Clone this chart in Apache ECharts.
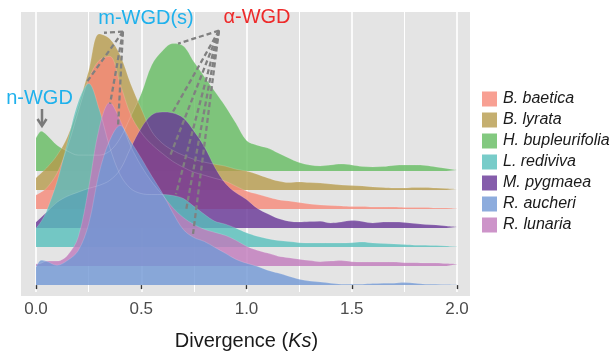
<!DOCTYPE html>
<html>
<head>
<meta charset="utf-8">
<script src="https://cdn.jsdelivr.net/npm/echarts@6/dist/echarts.min.js"></script>
<style>
html, body { margin: 0; padding: 0; background: #fff; }
#chart { width: 614px; height: 356px; }
</style>
</head>
<body>
<div id="chart"></div>
<script>
// Ks grid shared by all ridges
var ks = [0, 0.025, 0.05, 0.1, 0.15, 0.2, 0.25, 0.3, 0.35, 0.4, 0.45, 0.5, 0.55, 0.6, 0.65, 0.7,
    0.75, 0.8, 0.85, 0.9, 0.95, 1.0, 1.05, 1.1, 1.15, 1.2, 1.25, 1.3, 1.35, 1.4, 1.45, 1.5,
    1.55, 1.6, 1.65, 1.7, 1.75, 1.8, 1.85, 1.9, 1.95, 2.0];

// ridge order, top to bottom
var species = ['H. bupleurifolia', 'B. lyrata', 'B. baetica', 'M. pygmaea', 'L. rediviva', 'R. lunaria', 'R. aucheri'];
var legendOrder = ['B. baetica', 'B. lyrata', 'H. bupleurifolia', 'L. rediviva', 'M. pygmaea', 'R. aucheri', 'R. lunaria'];
var ridgeBase = [6, 5, 4, 3, 2, 1, 0];
var colors = ['rgba(100,188,96,0.8)', 'rgba(182,155,76,0.8)', 'rgba(246,136,120,0.8)', 'rgba(103,53,150,0.8)',
    'rgba(86,191,187,0.8)', 'rgba(193,121,187,0.8)', 'rgba(112,151,212,0.8)'];

// scaled density heights
var hBupleurifolia = [1.72, 2.08, 1.9, 1.35, 1.04, 0.83, 0.83, 0.83, 1.04, 1.72, 2.86, 4.06, 5.57, 6.3, 6.69, 6.56,
    5.73, 4.95, 4.17, 3.39, 2.5, 1.6, 1.35, 1.2, 0.94, 0.68, 0.44, 0.31, 0.26, 0.31, 0.36, 0.31,
    0.23, 0.21, 0.23, 0.29, 0.31, 0.31, 0.29, 0.21, 0.13, 0.05];
var bLyrata = [0.63, 0.89, 1.15, 1.82, 2.81, 4.38, 6.25, 8.2, 7.95, 7.08, 5.57, 4.27, 3.07, 2.45, 2.08, 1.82,
    1.61, 1.46, 1.35, 1.25, 1.09, 0.99, 0.83, 0.63, 0.47, 0.39, 0.42, 0.39, 0.36, 0.31, 0.26, 0.23,
    0.21, 0.16, 0.13, 0.1, 0.1, 0.13, 0.13, 0.1, 0.08, 0.05];
var bBaetica = [0.73, 0.89, 1.09, 1.88, 3.28, 5.1, 6.82, 7.81, 8.02, 6.56, 4.95, 4.01, 3.39, 2.92, 2.5, 2.19,
    1.93, 1.77, 1.61, 1.46, 1.2, 0.94, 0.78, 0.63, 0.49, 0.42, 0.34, 0.26, 0.21, 0.18, 0.16, 0.13,
    0.13, 0.1, 0.1, 0.1, 0.08, 0.08, 0.08, 0.05, 0.05, 0.03];
var mPygmaea = [0.31, 0.57, 0.83, 1.35, 1.67, 1.88, 2.08, 2.24, 2.5, 3.07, 4.22, 5.26, 5.94, 6.09, 6.04, 5.78,
    5.1, 4.27, 3.18, 2.34, 1.85, 1.5, 1.04, 0.75, 0.5, 0.36, 0.31, 0.34, 0.36, 0.26, 0.31, 0.39,
    0.34, 0.26, 0.31, 0.31, 0.29, 0.23, 0.18, 0.16, 0.1, 0.05];
var lRediviva = [0.99, 1.35, 1.88, 3.44, 5.52, 7.6, 8.59, 7.24, 5.26, 3.8, 3.07, 2.81, 2.76, 2.76, 2.71, 2.55,
    2.14, 1.72, 1.35, 1.2, 0.99, 0.75, 0.57, 0.44, 0.34, 0.29, 0.23, 0.21, 0.21, 0.21, 0.21, 0.23,
    0.26, 0.21, 0.18, 0.16, 0.13, 0.1, 0.1, 0.08, 0.05, 0.03];
var rLunaria = [0.1, 0.16, 0.26, 0.26, 0.57, 1.51, 4.11, 7.24, 8.59, 7.66, 6.3, 5.26, 4.43, 3.75, 3.07, 2.55,
    2.19, 1.93, 1.77, 1.61, 1.35, 1.04, 0.83, 0.68, 0.52, 0.44, 0.36, 0.29, 0.23, 0.26, 0.29, 0.23,
    0.21, 0.21, 0.21, 0.21, 0.18, 0.18, 0.16, 0.16, 0.13, 0.1];
var rAucheri = [0.94, 1.3, 1.25, 1.04, 1.3, 1.8, 3.2, 5.9, 7.6, 8.39, 7.55, 6.67, 5.73, 4.84, 3.8, 2.92,
    2.5, 2.29, 1.98, 1.67, 1.35, 1.15, 0.99, 0.78, 0.63, 0.47, 0.31, 0.21, 0.16, 0.1, 0.05, 0.05,
    0.05, 0.08, 0.1, 0.1, 0.13, 0.1, 0.05, 0.05, 0.03, 0.01];

// WGD annotation lines: apex -> peaks (Ks, ridge units)
var mWgdApex = [0.413, 13.32];
var mWgdTargets = [[0.323, 13.26], [0.238, 10.62], [0.352, 9.53], [0.39, 8.39]];
var aWgdApex = [0.869, 13.37];
var aWgdTargets = [[0.675, 12.69], [0.646, 9.02], [0.637, 6.79], [0.665, 4.77], [0.713, 3.94], [0.746, 2.69]];

var densities = [hBupleurifolia, bLyrata, bBaetica, mPygmaea, lRediviva, rLunaria, rAucheri];
var font = '"Liberation Sans", Arial, sans-serif';

var series = [];
densities.forEach(function (d, i) {
    series.push({
        name: species[i],
        type: 'line',
        smooth: 0.35,
        symbol: 'none',
        silent: true,
        color: colors[i],
        lineStyle: { color: 'rgba(255,255,255,0.25)', width: 0.6 },
        areaStyle: { color: colors[i], opacity: 1, origin: ridgeBase[i] },
        data: ks.map(function (x, j) { return [x, ridgeBase[i] + d[j]]; })
    });
});

var wgdLines = [];
mWgdTargets.forEach(function (t) { wgdLines.push({ coords: [mWgdApex, t] }); });
aWgdTargets.forEach(function (t) { wgdLines.push({ coords: [aWgdApex, t] }); });
series.push({
    type: 'lines',
    coordinateSystem: 'cartesian2d',
    silent: true,
    z: 5,
    lineStyle: { color: '#808080', width: 2.3, type: [5, 3], opacity: 1 },
    data: wgdLines
});

var myChart = echarts.init(document.getElementById('chart'));
myChart.setOption({
    animation: false,
    graphic: [
        { type: 'rect', z: -10, silent: true, shape: { x: 21, y: 12, width: 449, height: 284 }, style: { fill: '#E4E4E4' } },
        { type: 'text', z: 10, x: 39.5, y: 98, style: { text: 'n-WGD', fill: '#1FB1EC', fontSize: 20, fontFamily: font, align: 'center', verticalAlign: 'middle' } },
        { type: 'text', z: 10, x: 146, y: 18, style: { text: 'm-WGD(s)', fill: '#1FB1EC', fontSize: 20, fontFamily: font, align: 'center', verticalAlign: 'middle' } },
        { type: 'text', z: 10, x: 257, y: 17, style: { text: 'α-WGD', fill: '#EE2A2A', fontSize: 20, fontFamily: font, align: 'center', verticalAlign: 'middle' } },
        { type: 'line', z: 10, shape: { x1: 42, y1: 109, x2: 42, y2: 125 }, style: { stroke: '#7a7a7a', lineWidth: 2.5 } },
        { type: 'polyline', z: 10, shape: { points: [[37.5, 119], [42, 126], [46.5, 119]] }, style: { stroke: '#7a7a7a', lineWidth: 2.5, fill: null } }
    ],
    grid: { left: 36, right: 157, top: 12, bottom: 60 },
    legend: {
        data: legendOrder,
        orient: 'vertical',
        left: 477,
        top: 86,
        icon: 'rect',
        itemWidth: 15,
        itemHeight: 15,
        itemGap: 5,
        selectedMode: false,
        itemStyle: { borderWidth: 0 },
        textStyle: { fontStyle: 'italic', fontSize: 16, color: '#1a1a1a', fontFamily: font, padding: [0, 0, 0, 1] }
    },
    xAxis: {
        type: 'value',
        min: 0,
        max: 2,
        interval: 0.5,
        name: '{a|Divergence (}{b|Ks}{a|)}',
        nameLocation: 'middle',
        nameGap: 39,
        nameTextStyle: {
            rich: {
                a: { fontSize: 20, color: '#1a1a1a', fontFamily: font },
                b: { fontSize: 20, color: '#1a1a1a', fontFamily: font, fontStyle: 'italic' }
            }
        },
        axisLine: { show: false },
        axisTick: { length: 4, lineStyle: { color: '#333', width: 1.4 } },
        axisLabel: {
            fontSize: 17, color: '#4d4d4d', fontFamily: font, margin: 9,
            formatter: function (v) { return v.toFixed(1); }
        },
        splitLine: { lineStyle: { color: '#fff', width: 1.6 } },
        minorTick: { show: false, splitNumber: 2 },
        minorSplitLine: { show: true, lineStyle: { color: '#fff', width: 1 } }
    },
    yAxis: {
        type: 'value',
        min: -0.363,
        max: 14.35,
        show: false,
        splitLine: { show: false }
    },
    series: series
});
</script>
</body>
</html>
